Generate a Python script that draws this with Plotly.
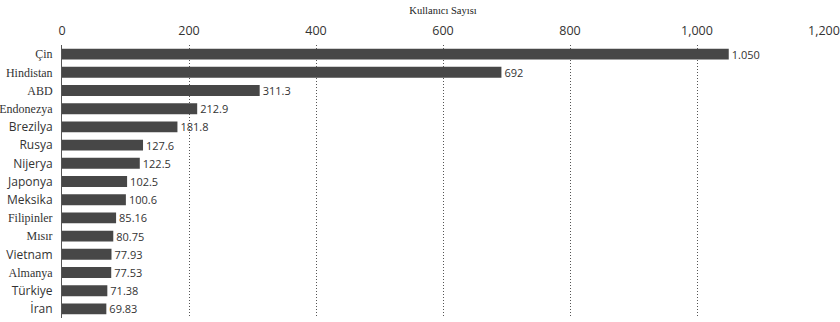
import plotly.graph_objects as go

# Internet users by country (millions)
countries = ["Çin", "Hindistan", "ABD", "Endonezya", "Brezilya", "Rusya", "Nijerya",
             "Japonya", "Meksika", "Filipinler", "Mısır", "Vietnam", "Almanya",
             "Türkiye", "İran"]
users = [1050, 692, 311.3, 212.9, 181.8, 127.6, 122.5, 102.5, 100.6, 85.16,
         80.75, 77.93, 77.53, 71.38, 69.83]
value_labels = ["1.050", "692", "311.3", "212.9", "181.8", "127.6", "122.5", "102.5",
                "100.6", "85.16", "80.75", "77.93", "77.53", "71.38", "69.83"]
serif_names = {"Çin", "Hindistan", "ABD", "Endonezya", "Filipinler", "Mısır", "Almanya"}
x_ticks = [0, 200, 400, 600, 800, 1000, 1200]
x_tick_text = ["0", "200", "400", "600", "800", "1,000", "1,200"]

SANS = "Open Sans, Segoe UI, DejaVu Sans, sans-serif"
SERIF = "Liberation Serif, DejaVu Serif, serif"

tick_text = [
    f'<span style="font-family:{SERIF}">{c}</span>' if c in serif_names else c
    for c in countries
]

fig = go.Figure(go.Bar(
    x=users,
    y=countries,
    orientation="h",
    marker=dict(color="#474747", line=dict(width=0)),
    text=value_labels,
    textposition="outside",
    constraintext="none",
    textfont=dict(family=SANS, size=11, color="#333333"),
    cliponaxis=False,
    hoverinfo="skip",
))

fig.update_layout(
    width=840,
    height=322,
    margin=dict(l=62, r=16, t=45, b=4),
    paper_bgcolor="white",
    plot_bgcolor="white",
    bargap=0.4,
    showlegend=False,
    xaxis=dict(
        side="top",
        range=[0, 1200],
        tickvals=x_ticks,
        ticktext=x_tick_text,
        tickfont=dict(family=SANS, size=12.5, color="#333333"),
        showgrid=True,
        gridcolor="#555555",
        griddash="1px,2px",
        gridwidth=1,
        zeroline=False,
        showline=False,
        ticks="",
        ticklabelstandoff=7,
        automargin=False,
        title=dict(text="Kullanıcı Sayısı",
                   font=dict(family=SERIF, size=10.5, color="#222222"),
                   standoff=4),
    ),
    yaxis=dict(
        autorange="reversed",
        tickvals=countries,
        ticktext=tick_text,
        tickfont=dict(family=SANS, size=12, color="#333333"),
        showline=True,
        linecolor="#555555",
        linewidth=1,
        showgrid=False,
        ticks="",
        ticklabelstandoff=6,
        automargin=False,
    ),
)

fig.write_html("out.html")
